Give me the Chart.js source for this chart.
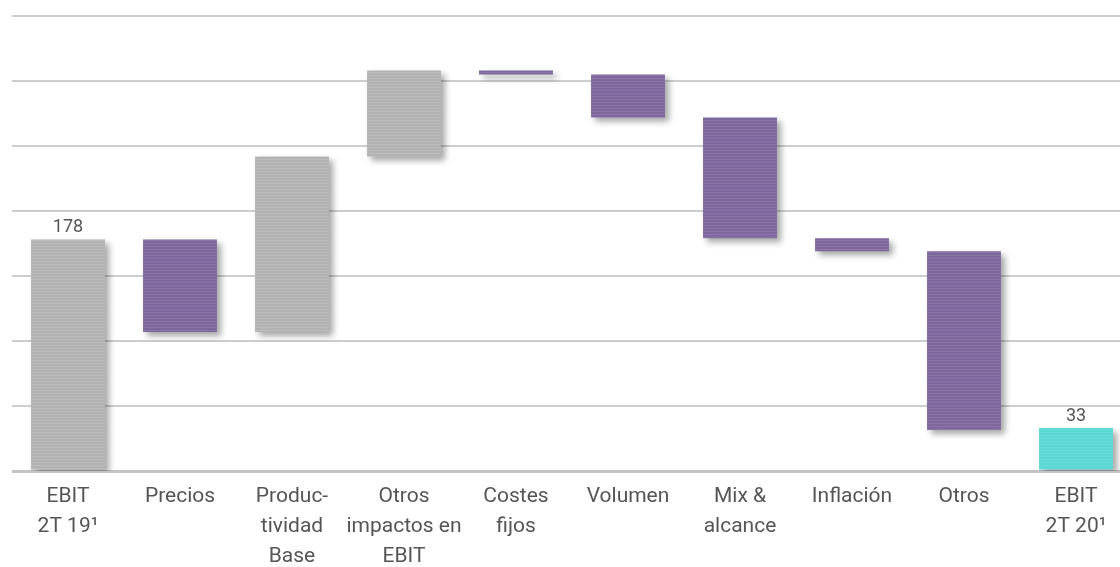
<!DOCTYPE html>
<html>
<head>
<meta charset="utf-8">
<script src="https://cdn.jsdelivr.net/npm/chart.js@4/dist/chart.umd.min.js"></script>
<style>
  html, body { margin: 0; padding: 0; background: #ffffff; overflow: hidden; }
  #wrap { width: 1120px; height: 567px; overflow: hidden; position: relative; }
  canvas { display: block; }
</style>
</head>
<body>
<div id="wrap"><canvas id="c" width="1132" height="567"></canvas></div>
<script>
const categories = [
  ['EBIT', '2T 19\u00B9'],
  'Precios',
  ['Produc-', 'tividad', 'Base'],
  ['Otros', 'impactos en', 'EBIT'],
  ['Costes', 'fijos'],
  'Volumen',
  ['Mix &', 'alcance'],
  'Inflación',
  'Otros',
  ['EBIT', '2T 20\u00B9']
];
const barLow  = [0,   107, 107, 242, 305, 272, 179, 169, 31.5, 0];
const barHigh = [178, 178, 242, 308, 308, 305, 272, 179, 169, 33];
const barKind = ['total', 'neg', 'pos', 'pos', 'neg', 'neg', 'neg', 'neg', 'neg', 'final'];
const valueLabels = ['178', '', '', '', '', '', '', '', '', '33'];
const yTicks = [0, 50, 100, 150, 200, 250, 300, 350];

function stripe(base, light) {
  const p = document.createElement('canvas');
  p.width = 4; p.height = 3;
  const g = p.getContext('2d');
  g.fillStyle = base; g.fillRect(0, 0, 4, 3);
  g.fillStyle = light; g.fillRect(0, 0, 4, 1);
  return g.createPattern(p, 'repeat');
}
const cv = document.getElementById('c');
const fills = {
  total: stripe('#b2b2b2', '#bdbdbd'),
  pos: stripe('#b2b2b2', '#bdbdbd'),
  neg: stripe('#7e679c', '#8a75a7'),
  final: stripe('#5cd8d4', '#66dcd8')
};

const shadowPlugin = {
  id: 'shadow',
  beforeDatasetsDraw(chart) {
    const c = chart.ctx;
    c.save();
    c.shadowColor = 'rgba(0,0,0,0.35)';
    c.shadowBlur = 6;
    c.shadowOffsetX = 4;
    c.shadowOffsetY = 4;
  },
  afterDatasetsDraw(chart) {
    chart.ctx.restore();
    const c = chart.ctx;
    const meta = chart.getDatasetMeta(0);
    c.save();
    c.fillStyle = '#555555';
    c.font = '18px Roboto, "Noto Sans", sans-serif';
    c.textAlign = 'center';
    c.textBaseline = 'bottom';
    meta.data.forEach((bar, i) => {
      if (valueLabels[i]) {
        c.fillText(valueLabels[i], bar.x, bar.y - 3);
      }
    });
    c.restore();
  }
};

new Chart(cv, {
  type: 'bar',
  data: {
    labels: categories,
    datasets: [{
      data: barLow.map((lo, i) => [lo, barHigh[i]]),
      backgroundColor: barKind.map(k => fills[k]),
      borderWidth: 0,
      barPercentage: 0.66,
      categoryPercentage: 1.0
    }]
  },
  options: {
    responsive: false,
    animation: false,
    devicePixelRatio: 1,
    layout: { padding: { left: 12, top: 16, right: 0, bottom: 0 } },
    plugins: { legend: { display: false }, tooltip: { enabled: false } },
    scales: {
      x: {
        afterFit(axis) { axis.height = 96; },
        grid: { display: false, drawTicks: false },
        border: { display: false },
        ticks: {
          color: '#555555',
          font: { family: 'Roboto, "Noto Sans", sans-serif', size: 21, lineHeight: '30px' },
          padding: 11,
          maxRotation: 0,
          autoSkip: false
        }
      },
      y: {
        min: 0,
        max: 350,
        afterBuildTicks(axis) { axis.ticks = yTicks.map(v => ({ value: v })); },
        afterFit(axis) { axis.width = 0; },
        ticks: { display: false },
        border: { display: false },
        grid: {
          drawTicks: false,
          color: ctx => ctx.tick && ctx.tick.value === 0 ? '#c4c4c4' : '#cdcdcd',
          lineWidth: ctx => ctx.tick && ctx.tick.value === 0 ? 3 : 2
        }
      }
    }
  },
  plugins: [shadowPlugin]
});
</script>
</body>
</html>
